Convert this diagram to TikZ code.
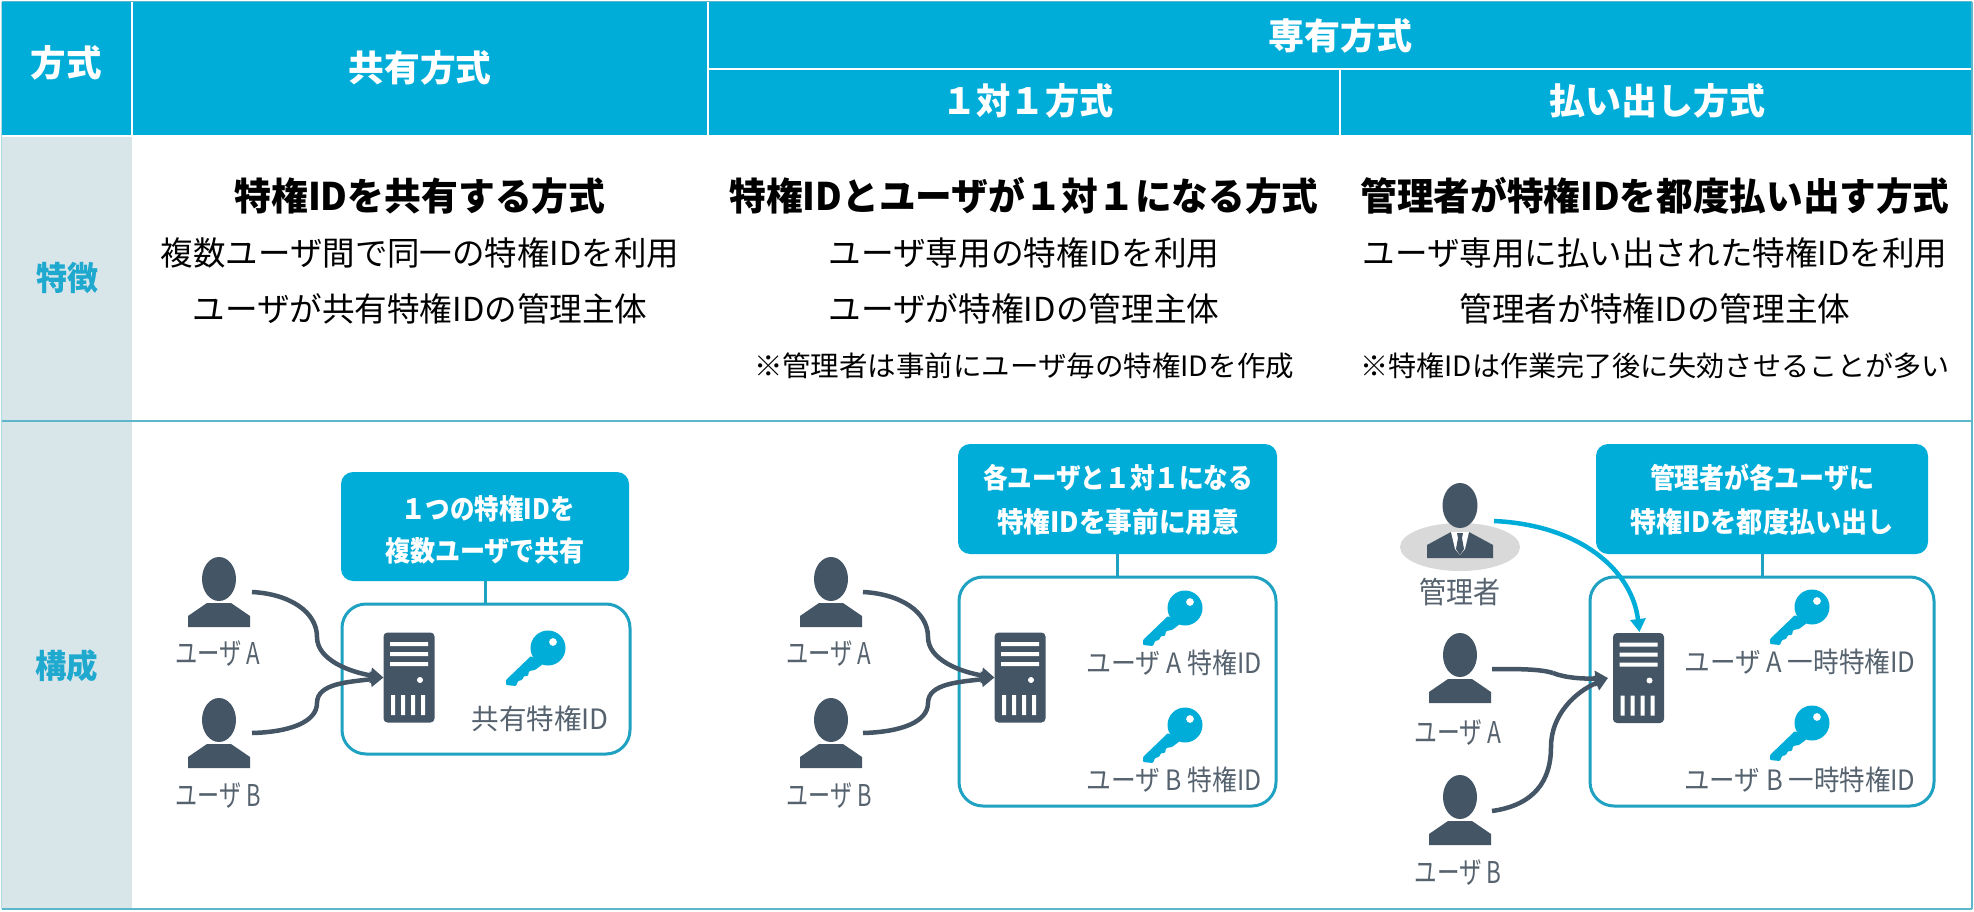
\documentclass[tikz,border=0pt]{standalone}
\usepackage{fontspec}
\setmainfont{Noto Sans CJK JP}
\usetikzlibrary{arrows.meta}
\definecolor{hdr}{HTML}{00ADD8}
\definecolor{lite}{HTML}{D8E6EA}
\definecolor{rule}{HTML}{5DB6CA}
\definecolor{dark}{HTML}{445565}
\definecolor{lbl}{HTML}{56636F}
\definecolor{frame}{HTML}{1FA2C2}
\definecolor{head}{HTML}{1FA9CF}
% text fitted to width and em height
\newcommand{\T}[3]{\resizebox*{#1pt}{#2pt}{\rule[-.12em]{0pt}{1em}#3}}
\tikzset{
  x=1pt,y=-1pt,
  txt/.style={inner sep=0pt,outer sep=0pt,font=\fontsize{30pt}{30pt}\selectfont},
  hd/.style={txt,text=white,font=\fontsize{30pt}{30pt}\selectfont\bfseries},
  bd/.style={txt,text=black},
  bb/.style={txt,text=black,font=\fontsize{30pt}{30pt}\selectfont\bfseries},
  side/.style={txt,text=head,font=\fontsize{30pt}{30pt}\selectfont\bfseries},
  lab/.style={txt,text=lbl},
  cot/.style={txt,text=white,font=\fontsize{30pt}{30pt}\selectfont\bfseries},
  callout/.style={fill=hdr,rounded corners=12pt,inner sep=0pt,outer sep=0pt},
  panel/.style={draw=frame,line width=3pt,fill=white,rounded corners=24pt,inner sep=0pt,outer sep=0pt},
  stem/.style={draw=frame,line width=3pt},
  srv/.style={fill=dark,rounded corners=4pt,inner sep=0pt,outer sep=0pt,minimum width=51pt,minimum height=90pt},
  flow/.style={draw=dark,line width=4.5pt,-{Triangle[length=13pt,width=15pt]}},
  flowb/.style={draw=hdr,line width=4.5pt,-{Triangle[length=13pt,width=15pt]}},
  flowp/.style={draw=dark,line width=4.5pt},
  person/.pic={
    \fill[dark] (0,22) ellipse (17pt and 22pt);
    \fill[dark] (-31,70) -- (-31,59) -- (-12,46) -- (12,46) -- (31,59) -- (31,70) -- cycle;
  },
  admin/.pic={
    \fill[black!15] (0,64) ellipse (60pt and 24pt);
    \fill[dark] (0,22.5) ellipse (17.5pt and 22.5pt);
    \fill[dark] (-33,75) -- (-33,62) -- (-9,49) -- (9,49) -- (33,62) -- (33,75) -- cycle;
    \fill[white] (-9,49) -- (9,49) -- (5,66) -- (0,72) -- (-5,66) -- cycle;
    \fill[dark] (-3,50) -- (3,50) -- (2,55) -- (4,66) -- (0,72) -- (-4,66) -- (-2,55) -- cycle;
  },
  keyicon/.pic={
    \fill[hdr,even odd rule] (0,0) circle (17.5pt) (5,-6) circle (4pt);
    \fill[hdr,rounded corners=1pt] (-17,8) -- (-42,32) -- (-42,37) -- (-32,38) -- (-30,33) -- (-26,32) -- (-24,28) -- (-20,28) -- (-19,23) -- (-13,22) -- (-5,16) -- cycle;
  },
  slots/.pic={
    \fill[white] (-19,-35.5) rectangle (19,-31.5) (-19,-25.5) rectangle (19,-21.5) (-19,-15.5) rectangle (19,-11.5);
    \fill[white] (11,2.5) circle (3pt);
    \fill[white] (-18,17.5) rectangle (-14,37.5) (-8,17.5) rectangle (-4,37.5) (2,17.5) rectangle (6,37.5) (12,17.5) rectangle (16,37.5);
  }
}
\begin{document}
\begin{tikzpicture}
\useasboundingbox (0,0) rectangle (1974,912);
\fill[white] (0,0) rectangle (1974,912);
% table backgrounds
\fill[hdr] (2,2) rectangle (1971,135);
\fill[lite] (2,137) rectangle (132,908);
\draw[white,line width=2pt] (132,2) -- (132,137) (708,2) -- (708,137) (708,69) -- (1971,69) (1340,69) -- (1340,137);
\draw[rule,line width=2.5pt] (2,421) -- (1972,421);
\draw[rule,line width=2.5pt] (2,909) -- (1972,909);
\draw[rule,line width=1.5pt] (1972,2) -- (1972,909);
\draw[rule,line width=1pt] (2,1.5) -- (1972,1.5);
\draw[rule!50,line width=1pt] (1,2) -- (1,909);
% headers
\node[hd] (h0) at (66,63) {\T{71}{36}{方式}};
\node[hd] (h1) at (420,68) {\T{143}{36}{共有方式}};
\node[hd] (h2) at (1340,36) {\T{144}{36}{専有方式}};
\node[hd] (h3) at (1028,101) {\T{171}{36}{１対１方式}};
\node[hd] (h4) at (1657,101) {\T{216}{36}{払い出し方式}};
\node[side] (s0) at (67,278) {\T{62}{33}{特徴}};
\node[side] (s1) at (67,666) {\T{63}{33}{構成}};
% feature text
\node[bb] (a1) at (420,196) {\T{371}{38}{特権IDを共有する方式}};
\node[bd] (a2) at (420,253) {\T{518}{33}{複数ユーザ間で同一の特権IDを利用}};
\node[bd] (a3) at (420,309) {\T{455}{33}{ユーザが共有特権IDの管理主体}};
\node[bb] (b1t) at (1024,196) {\T{589}{38}{特権IDとユーザが１対１になる方式}};
\node[bd] (b2t) at (1024,253) {\T{391}{33}{ユーザ専用の特権IDを利用}};
\node[bd] (b3t) at (1024,309) {\T{391}{33}{ユーザが特権IDの管理主体}};
\node[bd] (b4t) at (1024,366) {\T{540}{28}{※管理者は事前にユーザ毎の特権IDを作成}};
\node[bb] (c1t) at (1655,196) {\T{589}{38}{管理者が特権IDを都度払い出す方式}};
\node[bd] (c2t) at (1655,253) {\T{585}{33}{ユーザ専用に払い出された特権IDを利用}};
\node[bd] (c3t) at (1655,309) {\T{391}{33}{管理者が特権IDの管理主体}};
\node[bd] (c4t) at (1655,366) {\T{589}{28}{※特権IDは作業完了後に失効させることが多い}};
% panel 1
\node[panel,minimum width=288pt,minimum height=150pt] (p1) at (486,679) {};
\node[callout,minimum width=288pt,minimum height=109pt] (k1) at (485,526.5) {};
\draw[stem] (k1.south) -- (k1.south |- p1.north);
\node[cot] (k1a) at (488,509) {\T{173}{28}{１つの特権IDを}};
\node[cot] (k1b) at (485,551) {\T{200}{28}{複数ユーザで共有}};
\pic at (219,557) {person};
\pic at (219,698) {person};
\node[lab] (u1a) at (218,653) {\T{85}{30}{ユーザ A}};
\node[lab] (u1b) at (218,795) {\T{85}{30}{ユーザ B}};
\node[srv] (s1v) at (409,677.5) {};
\pic at (s1v.center) {slots};
\pic at (548,648) {keyicon};
\node[lab] (k1l) at (540,719) {\T{137}{28}{共有特権ID}};
\coordinate (a1s) at (252,592);
\coordinate (a1m) at (317,637);
\coordinate (b1s) at (252,733);
\coordinate (b1m) at (317,703);
\draw[flowp] (a1s) .. controls (290,594) and (317,612) .. (a1m);
\draw[flow] (a1m) .. controls (317,660) and (350,672) .. (s1v.west);
\draw[flowp] (b1s) .. controls (290,732) and (317,722) .. (b1m);
\draw[flow] (b1m) .. controls (317,683) and (350,682) .. (s1v.west);
% panel 2
\node[panel,minimum width=317pt,minimum height=229pt] (p2) at (1117.5,691.5) {};
\node[callout,minimum width=319pt,minimum height=110pt] (k2) at (1117.5,499) {};
\draw[stem] (k2.south) -- (k2.south |- p2.north);
\node[cot] (k2a) at (1118,478) {\T{270}{28}{各ユーザと１対１になる}};
\node[cot] (k2b) at (1118,522) {\T{242}{28}{特権IDを事前に用意}};
\pic at (831,557) {person};
\pic at (831,698) {person};
\node[lab] (u2a) at (829,653) {\T{85}{30}{ユーザ A}};
\node[lab] (u2b) at (829,795) {\T{85}{30}{ユーザ B}};
\node[srv] (s2v) at (1020,677.5) {};
\pic at (s2v.center) {slots};
\pic at (1185,608) {keyicon};
\pic at (1185,725) {keyicon};
\node[lab] (k2l) at (1174,663) {\T{175}{28}{ユーザ A 特権ID}};
\node[lab] (k2m) at (1174,780) {\T{175}{28}{ユーザ B 特権ID}};
\coordinate (a2s) at (863,592);
\coordinate (a2m) at (928,637);
\coordinate (b2s) at (863,733);
\coordinate (b2m) at (928,703);
\draw[flowp] (a2s) .. controls (901,594) and (928,612) .. (a2m);
\draw[flow] (a2m) .. controls (928,660) and (961,672) .. (s2v.west);
\draw[flowp] (b2s) .. controls (901,732) and (928,722) .. (b2m);
\draw[flow] (b2m) .. controls (928,683) and (961,682) .. (s2v.west);
% panel 3
\node[panel,minimum width=344pt,minimum height=229pt] (p3) at (1762,691.5) {};
\node[callout,minimum width=332pt,minimum height=110pt] (k3) at (1762,499) {};
\draw[stem] (k3.south) -- (k3.south |- p3.north);
\node[cot] (k3a) at (1762,478) {\T{224}{28}{管理者が各ユーザに}};
\node[cot] (k3b) at (1762,522) {\T{263}{28}{特権IDを都度払い出し}};
\pic at (1460,483) {admin};
\pic at (1460,633) {person};
\pic at (1460,775) {person};
\node[lab] (u3m) at (1460,592) {\T{81}{30}{管理者}};
\node[lab] (u3a) at (1458,732) {\T{87}{30}{ユーザ A}};
\node[lab] (u3b) at (1458,872) {\T{87}{30}{ユーザ B}};
\node[srv] (s3v) at (1638.5,678) {};
\pic at (s3v.center) {slots};
\pic at (1812,607) {keyicon};
\pic at (1812,723) {keyicon};
\node[lab] (k3l) at (1800,662) {\T{231}{28}{ユーザ A 一時特権ID}};
\node[lab] (k3m) at (1800,780) {\T{231}{28}{ユーザ B 一時特権ID}};
\coordinate (m3s) at (1494,521);
\coordinate (a3s) at (1492,669);
\coordinate (a3m) at (1553,673);
\coordinate (b3s) at (1492,811);
\coordinate (b3m) at (1551,747);
\coordinate (s3t) at ([xshift=-5pt]s3v.west);
\draw[flowb] (m3s) .. controls (1580,525) and (1632,570) .. ([xshift=1pt,yshift=1pt]s3v.north);
\draw[flowp] (a3s) .. controls (1520,669) and (1540,669) .. (a3m);
\draw[flow] (a3m) .. controls (1565,678) and (1585,679) .. (s3t);
\draw[flowp] (b3s) .. controls (1535,805) and (1551,780) .. (b3m);
\draw[flow] (b3m) .. controls (1551,715) and (1575,692) .. (s3t);
\end{tikzpicture}
\end{document}
